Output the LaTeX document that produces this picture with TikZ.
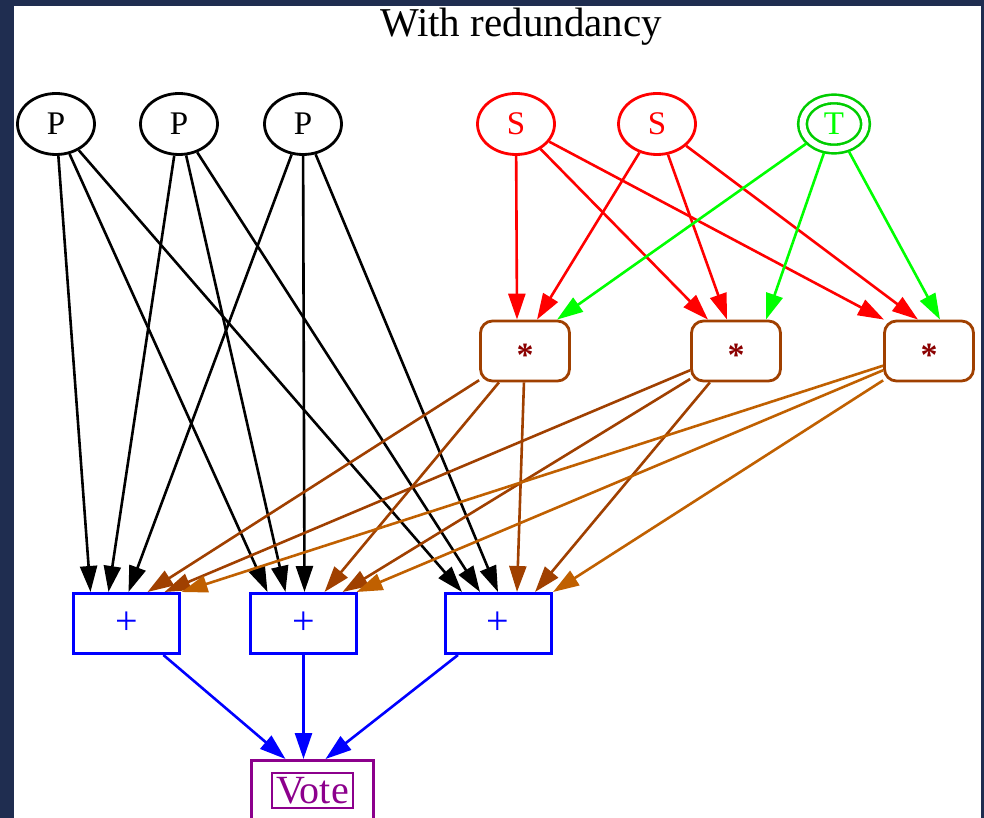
\documentclass[tikz,border=0pt]{standalone}
\usepackage{fontspec}
\setmainfont{Liberation Serif}
\usetikzlibrary{shapes.geometric,arrows.meta,positioning}

\definecolor{framenavy}{RGB}{31,45,80}
\definecolor{tgreen}{RGB}{0,205,0}
\definecolor{tlabel}{RGB}{0,255,0}
\definecolor{starbrown}{RGB}{160,64,0}
\definecolor{starorange}{RGB}{192,96,0}
\definecolor{stardark}{RGB}{139,0,0}
\definecolor{votepurple}{RGB}{140,0,140}

\begin{document}
\begin{tikzpicture}[
    x=1pt, y=-1pt,
    on grid,
    pnode/.style={ellipse, draw, line width=2.8pt, minimum width=77pt, minimum height=61pt, inner sep=0pt, font=\fontsize{33}{36}\selectfont},
    snode/.style={pnode, draw=red, text=red},
    tnode/.style={ellipse, draw=tgreen, text=tlabel, double=white, double distance=6pt, line width=2.6pt, outer sep=5pt, minimum width=63pt, minimum height=50pt, inner sep=0pt, font=\fontsize{33}{36}\selectfont},
    starbox/.style={rectangle, rounded corners=12pt, draw=starbrown, text=stardark, line width=2.8pt, minimum width=89pt, minimum height=60pt, font=\fontsize{34}{36}\selectfont\bfseries},
    plusbox/.style={rectangle, draw=blue, text=blue, line width=3pt, minimum width=106pt, minimum height=60pt, font=\fontsize{40}{44}\selectfont},
    votebox/.style={rectangle, draw=votepurple, text=votepurple, line width=3pt, minimum width=122pt, minimum height=60pt, font=\fontsize{40}{44}\selectfont},
    arrow/.style={-{Triangle[length=26pt,width=17pt]}, line width=2.6pt}
]

% Frame
\useasboundingbox (0,0) rectangle (984,818);
\fill[framenavy] (0,0) rectangle (984,818);
\fill[white] (14,6) rectangle (981,818);

\node[font=\fontsize{41}{44}\selectfont] (title) at (521,27) {With redundancy};

% Inputs
\node[pnode] (p1) at (56,124) {P};
\node[pnode, right=123pt of p1] (p2) {P};
\node[pnode, right=124pt of p2] (p3) {P};
\node[snode, right=213pt of p3] (s1) {S};
\node[snode, right=141pt of s1] (s2) {S};
\node[tnode, right=177pt of s2] (t) {T};

% Products
\node[starbox] (st1) at (525,351) {\smash{\raisebox{-0.45em}{*}}};
\node[starbox, right=211pt of st1] (st2) {\smash{\raisebox{-0.45em}{*}}};
\node[starbox, right=193pt of st2] (st3) {\smash{\raisebox{-0.45em}{*}}};

% Sums and vote
\node[plusbox] (plus1) at (126.5,623.5) {+};
\node[plusbox, right=177pt of plus1] (plus2) {+};
\node[plusbox, right=194.5pt of plus2] (plus3) {+};
\node[votebox, below=167pt of plus2, xshift=9pt] (vote) {\setlength{\fboxrule}{2.2pt}\setlength{\fboxsep}{3pt}\fbox{Vote}};

% Arrows P -> +
\draw[arrow] (p1) -- ([xshift=-36pt]plus1.north);
\draw[arrow] (p1) -- ([xshift=-36pt]plus2.north);
\draw[arrow] (p1) -- ([xshift=-36pt]plus3.north);
\draw[arrow] (p2) -- ([xshift=-18pt]plus1.north);
\draw[arrow] (p2) -- ([xshift=-18pt]plus2.north);
\draw[arrow] (p2) -- ([xshift=-18pt]plus3.north);
\draw[arrow] (p3) -- ([xshift=2pt]plus1.north);
\draw[arrow] (p3) -- ([xshift=1pt]plus2.north);
\draw[arrow] (p3) -- ([xshift=0pt]plus3.north);

% Arrows S, T -> *
\draw[arrow, red] (s1) -- ([xshift=-8pt]st1.north);
\draw[arrow, red] (s1) -- ([xshift=-28pt]st2.north);
\draw[arrow, red] (s1) -- ([xshift=-45pt]st3.north);
\draw[arrow, red] (s2) -- ([xshift=12pt]st1.north);
\draw[arrow, red] (s2) -- ([xshift=-9pt]st2.north);
\draw[arrow, red] (s2) -- ([xshift=-11pt]st3.north);
\draw[arrow, tlabel] (t) -- ([xshift=32pt]st1.north);
\draw[arrow, tlabel] (t) -- ([xshift=30pt]st2.north);
\draw[arrow, tlabel] (t) -- ([xshift=11pt]st3.north);

% Arrows * -> +
\draw[arrow, starbrown] (st1) -- ([xshift=21pt]plus1.north);
\draw[arrow, starbrown] (st1) -- ([xshift=21pt]plus2.north);
\draw[arrow, starbrown] (st1) -- ([xshift=19pt]plus3.north);
\draw[arrow, starbrown] (st2) -- ([xshift=38pt]plus1.north);
\draw[arrow, starbrown] (st2) -- ([xshift=39pt]plus2.north);
\draw[arrow, starbrown] (st2) -- ([xshift=37pt]plus3.north);
\draw[arrow, starorange] (st3) -- ([xshift=55pt]plus1.north);
\draw[arrow, starorange] (st3) -- ([xshift=53pt]plus2.north);
\draw[arrow, starorange] (st3) -- ([xshift=55pt]plus3.north);

% Arrows + -> Vote
\draw[arrow, blue] (plus1) -- ([xshift=-27pt]vote.north);
\draw[arrow, blue] (plus2) -- ([xshift=-9pt]vote.north);
\draw[arrow, blue] (plus3) -- ([xshift=13pt]vote.north);

\end{tikzpicture}
\end{document}
